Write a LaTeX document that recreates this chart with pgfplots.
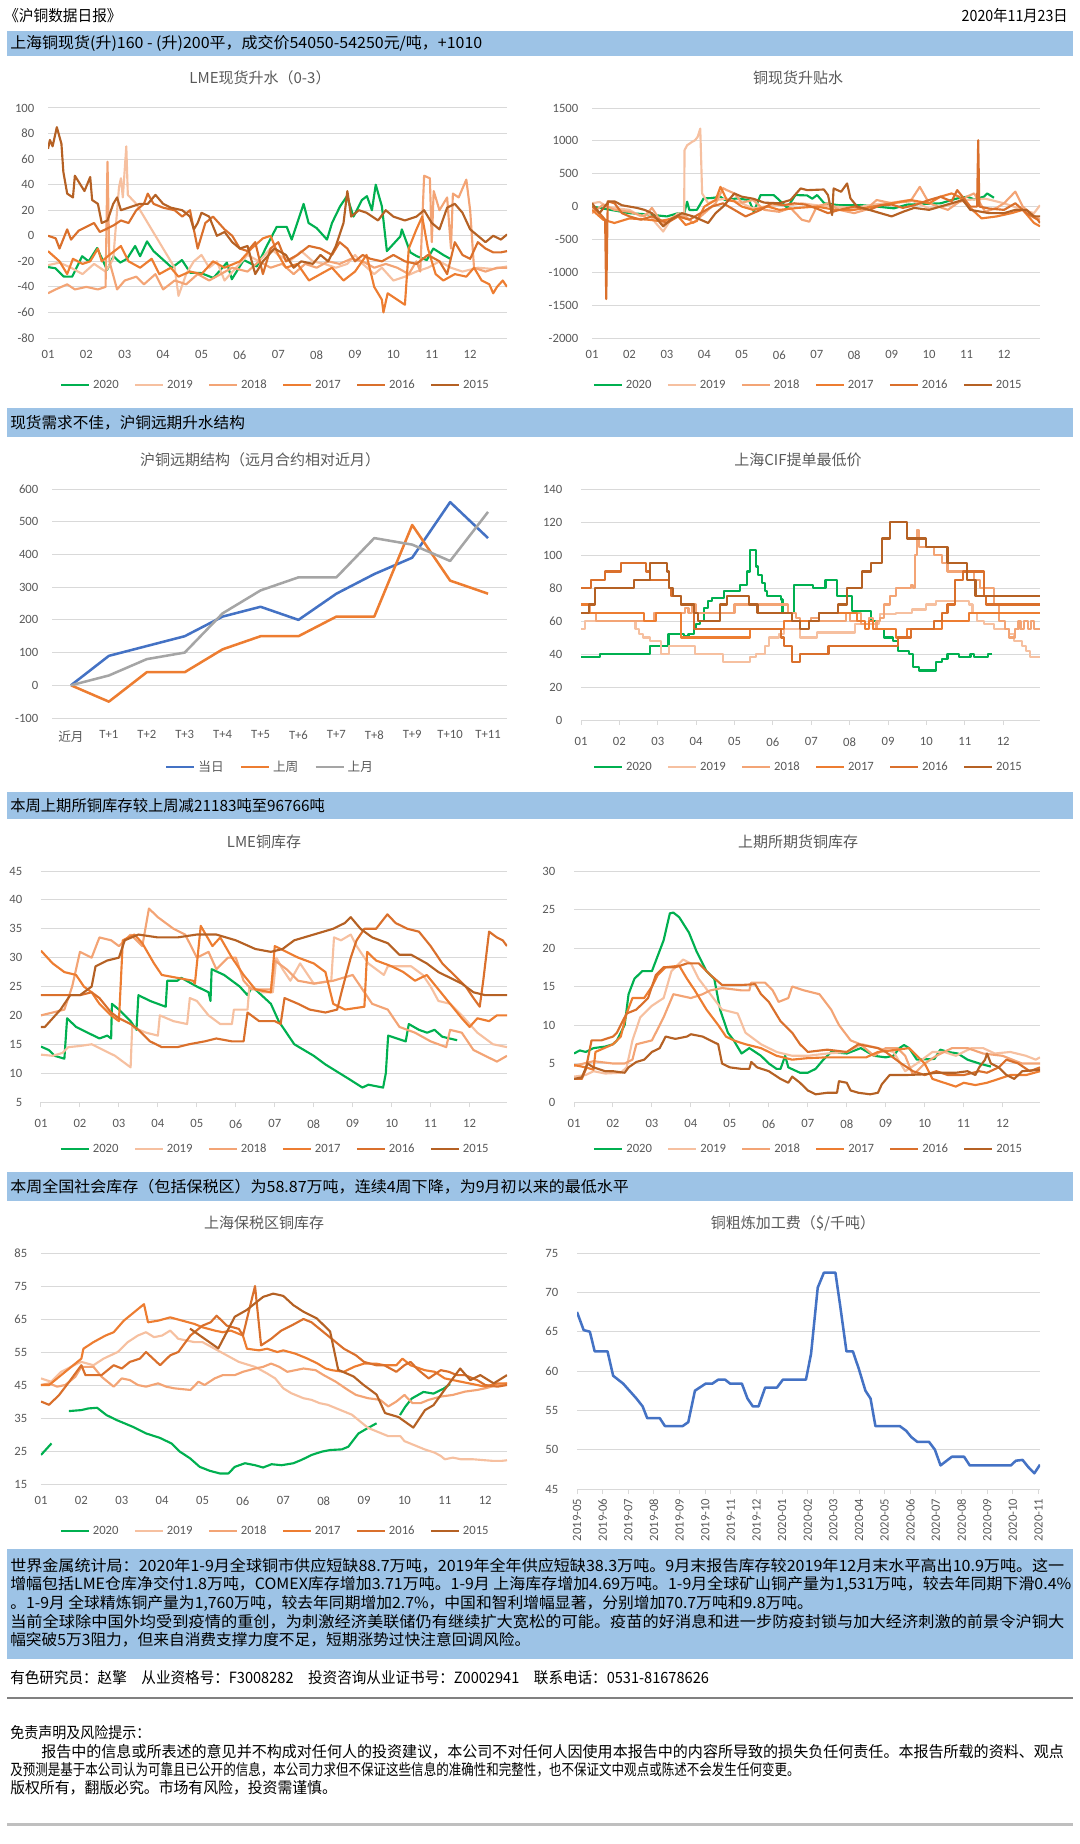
\documentclass[border=0pt]{standalone}
\usepackage{graphicx}
\usepackage{pgfplots}
\pgfplotsset{compat=1.18}
\usepackage{fontspec}
\setmainfont{Carlito}
\newfontfamily\cjk{Noto Sans CJK SC}
\definecolor{c20}{RGB}{0,176,80}
\definecolor{c19}{RGB}{246,192,160}
\definecolor{c18}{RGB}{243,164,117}
\definecolor{c17}{RGB}{237,125,49}
\definecolor{c16}{RGB}{218,112,44}
\definecolor{c15}{RGB}{181,97,36}
\definecolor{barblue}{RGB}{157,195,230}
\definecolor{gridc}{RGB}{217,217,217}
\definecolor{labc}{RGB}{89,89,89}
\definecolor{lblue}{RGB}{68,114,196}
\definecolor{lorange}{RGB}{237,125,49}
\definecolor{lgray}{RGB}{165,165,165}
\newcommand\tk{\fontsize{9.5}{11}\selectfont}
\newcommand\ttl{\cjk\fontsize{11.25}{13}\selectfont}
\newcommand\body{\cjk\fontsize{11.6}{14}\selectfont}
\newcommand\fitw[2]{\resizebox{#1}{\height}{\body #2}}
\pgfplotsset{
 legend image code/.code={\draw[#1,line width=2pt] (0pt,0pt) -- (21pt,0pt);},
 base/.style={scale only axis, anchor=south west, axis line style={draw=none}, tick style={draw=none},
   ymajorgrids, grid style={draw=gridc,line width=0.75pt},
   tick label style={font=\tk, text=labc},
   yticklabel style={xshift=-6.75pt},
   /pgf/number format/assume math mode=true, /pgf/number format/1000 sep={},
   no markers, every axis plot/.append style={line width=1.6pt, line join=round},
   legend style={draw=none, fill=none, font=\tk, text=labc, anchor=center,
     /tikz/every even column/.append style={column sep=9.25pt}},
 },
 season/.style={base, xmin=0, xmax=11.96, xtick={0,...,11}, xticklabels={01,02,03,04,05,06,07,08,09,10,11,12}, legend columns=6, xticklabel style={yshift=-6pt}},
 withaxis/.style={axis x line*=bottom, x axis line style={draw=gridc, line width=0.75pt}, xtick style={draw=gridc, line width=0.75pt}, tick align=outside, major tick length=3.75pt}
}
\begin{document}
\begin{tikzpicture}
\begin{scope}[x=0.75pt,y=-0.75pt]
\useasboundingbox (0,0) rectangle (1080,1844);
% ---------- header ----------
\node[anchor=west,inner sep=0pt] at (4,16) {\fitw{88pt}{《沪铜数据日报》}};
\node[anchor=east,inner sep=0pt] at (1068,16) {\fitw{79.5pt}{2020年11月23日}};
\fill[barblue] (7,31) rectangle (1073,56);
\node[anchor=west,inner sep=0pt] at (10,43.5) {\fitw{354pt}{上海铜现货(升)160 - (升)200平，成交价54050-54250元/吨，+1010}};
\fill[barblue] (7,408) rectangle (1073,437);
\node[anchor=west,inner sep=0pt] at (10,422.5) {\fitw{176pt}{现货需求不佳，沪铜远期升水结构}};
\fill[barblue] (7,792) rectangle (1073,819);
\node[anchor=west,inner sep=0pt] at (10,805.5) {\fitw{236pt}{本周上期所铜库存较上周减21183吨至96766吨}};
\fill[barblue] (7,1172) rectangle (1073,1201);
\node[anchor=west,inner sep=0pt] at (10,1186.5) {\fitw{464pt}{本周全国社会库存（包括保税区）为58.87万吨，连续4周下降，为9月初以来的最低水平}};
% ---------- titles ----------
\node[text=labc] at (260,78) {\ttl LME现货升水（0-3）};
\node[text=labc] at (798,78) {\ttl 铜现货升贴水};
\node[text=labc] at (260,460) {\ttl 沪铜远期结构（远月合约相对近月）};
\node[text=labc] at (798,460) {\ttl 上海CIF提单最低价};
\node[text=labc] at (264,842) {\ttl LME铜库存};
\node[text=labc] at (798,842) {\ttl 上期所期货铜库存};
\node[text=labc] at (264,1223) {\ttl 上海保税区铜库存};
\node[text=labc] at (793,1223) {\ttl 铜粗炼加工费（\$/千吨）};
% ---------- text box ----------
\fill[barblue] (7,1549) rectangle (1073,1659);
\node[anchor=west,inner sep=0pt] at (10,1566) {\fitw{790.5pt}{世界金属统计局：2020年1-9月全球铜市供应短缺88.7万吨，2019年全年供应短缺38.3万吨。9月末报告库存较2019年12月末水平高出10.9万吨。这一}};
\node[anchor=west,inner sep=0pt] at (10,1584.5) {\fitw{795.75pt}{增幅包括LME仓库净交付1.8万吨，COMEX库存增加3.71万吨。1-9月 上海库存增加4.69万吨。1-9月全球矿山铜产量为1,531万吨，较去年同期下滑0.4\%}};
\node[anchor=west,inner sep=0pt] at (10,1603) {\fitw{602pt}{。1-9月 全球精炼铜产量为1,760万吨，较去年同期增加2.7\%，中国和智利增幅显著，分别增加70.7万吨和9.8万吨。}};
\node[anchor=west,inner sep=0pt] at (10,1621.5) {\fitw{790.5pt}{当前全球除中国外均受到疫情的重创，为刺激经济美联储仍有继续扩大宽松的可能。疫苗的好消息和进一步防疫封锁与加大经济刺激的前景令沪铜大}};
\node[anchor=west,inner sep=0pt] at (10,1640) {\fitw{390pt}{幅突破5万3阻力，但来自消费支撑力度不足，短期涨势过快注意回调风险。}};
\node[anchor=west,inner sep=0pt] at (10,1678) {\fitw{524pt}{有色研究员：赵擎\quad 从业资格号：F3008282\quad 投资咨询从业证书号：Z0002941\quad 联系电话：0531-81678626}};
\draw[color={rgb,255:red,128;green,128;blue,128}, line width=1.5pt] (7,1698) -- (1073,1698);
\node[anchor=west,inner sep=0pt] at (10,1733) {\fitw{105pt}{免责声明及风险提示：}};
\node[anchor=west,inner sep=0pt] at (41,1752) {\fitw{767pt}{报告中的信息或所表述的意见并不构成对任何人的投资建议，本公司不对任何人因使用本报告中的内容所导致的损失负任何责任。本报告所载的资料、观点}};
\node[anchor=west,inner sep=0pt] at (10,1770) {\fitw{592pt}{及预测是基于本公司认为可靠且已公开的信息，本公司力求但不保证这些信息的准确性和完整性，也不保证文中观点或陈述不会发生任何变更。}};
\node[anchor=west,inner sep=0pt] at (10,1788) {\fitw{245pt}{版权所有，翻版必究。市场有风险，投资需谨慎。}};
\draw[color={rgb,255:red,191;green,191;blue,191}, line width=2.25pt] (7,1824) -- (1073,1824);
\end{scope}
% ---------- chart 1 ----------
\begin{axis}[season, at={(36pt,-253.5pt)}, width=344.25pt, height=172.5pt, ymin=-80, ymax=100, ytick={-80,-60,...,100}, legend style={at={(0.496,-0.204)}}]
\addplot[c20] coordinates {(0,-24.5)(0.19,-25.4)(0.41,-31.9)(0.63,-32)(0.89,-16)(1.06,-20)(1.28,-9.6)(1.54,-26.7)(1.71,-16)(1.88,-21)(2.06,-18)(2.27,-8)(2.4,-16)(2.58,-4.4)(2.75,-12)(3.01,-19)(3.23,-25)(3.49,-19)(3.71,-29)(3.97,-29)(4.31,-33)(4.66,-21)(4.79,-34)(5.1,-19)(5.44,-24)(5.7,-8)(5.96,7)(6.22,7)(6.35,-3)(6.66,25)(6.79,10)(7.0,6)(7.27,-3)(7.4,10)(7.61,23)(7.79,31)(7.96,15)(8.18,28)(8.31,31)(8.44,20)(8.54,40)(8.7,23)(8.83,-12)(9.18,-0.5)(9.22,5)(9.44,-13)(9.61,-16)(9.87,-19)(10.04,-10)(10.3,-15)(10.48,-18)};
\addlegendentry{2020}
\addplot[c19] coordinates {(0,-23)(0.3,-21)(0.6,-25)(0.9,-30)(1.2,-22)(1.5,-28)(1.7,-18)(1.85,38)(1.9,45)(1.95,30)(2.04,70)(2.08,32)(2.3,25)(2.5,15)(2.7,5)(2.9,-5)(3.1,-15)(3.3,-25)(3.4,-47)(3.6,-30)(3.8,-20)(4.0,-15)(4.2,-25)(4.4,-20)(4.6,-35)(4.9,-25)(5.2,-15)(5.5,-20)(5.8,-10)(6.0,-15)(6.3,-20)(6.6,-12)(6.9,-20)(7.2,-22)(7.5,-25)(7.8,-22)(8.0,-15)(8.2,-22)(8.5,-30)(8.7,-25)(9.0,-35)(9.3,-32)(9.6,-28)(9.9,-25)(10.2,-20)(10.5,-25)(10.8,-28)(11.2,-25)(11.6,-26)(11.96,-24)};
\addlegendentry{2019}
\addplot[c18] coordinates {(0,-45)(0.2,-42)(0.5,-38)(0.7,-42)(1.0,-40)(1.3,-42)(1.5,-40)(1.55,58)(1.6,-20)(1.8,-42)(2.0,-35)(2.3,-32)(2.5,-38)(2.8,-30)(3.0,-42)(3.3,-35)(3.6,-38)(3.9,-30)(4.2,-35)(4.5,-30)(4.8,-25)(5.2,-28)(5.5,-20)(5.8,-25)(6.1,-22)(6.4,-30)(6.7,-22)(7.0,-25)(7.3,-20)(7.6,-22)(7.9,-18)(8.2,-20)(8.5,-25)(8.8,-22)(9.1,-25)(9.4,-30)(9.6,-20)(9.7,-28)(9.8,47)(9.95,45)(10.0,-5)(10.05,35)(10.2,20)(10.4,30)(10.5,-10)(10.55,33)(10.7,30)(10.9,44)(11.0,20)(11.1,-25)(11.4,-28)(11.7,-25)(11.96,-25)};
\addlegendentry{2018}
\addplot[c17] coordinates {(0,-12)(0.3,-20)(0.5,-30)(0.65,-18)(0.9,-22)(1.1,-20)(1.3,-10)(1.4,-20)(1.6,-15)(1.9,-8)(2.1,-20)(2.4,-25)(2.7,-18)(2.9,-30)(3.2,-25)(3.4,-32)(3.7,-28)(4.0,-30)(4.3,-20)(4.6,-25)(5.0,-20)(5.3,-10)(5.6,-2)(5.8,0)(6.0,-15)(6.2,-25)(6.5,-22)(6.8,-35)(7.1,-30)(7.4,-25)(7.7,-35)(8.0,-28)(8.3,-15)(8.5,-40)(8.7,-50)(8.74,-60)(8.85,-45)(9.1,-50)(9.3,-54)(9.4,-10)(9.6,5)(9.75,15)(9.9,-10)(10.1,-30)(10.3,-35)(10.6,-30)(10.9,-32)(11.1,-25)(11.3,-35)(11.5,-38)(11.6,-45)(11.7,-40)(11.85,-35)(11.96,-40)};
\addlegendentry{2017}
\addplot[c16] coordinates {(0,0)(0.2,-2)(0.3,-10)(0.5,5)(0.6,-3)(0.8,4)(1.0,7)(1.2,10)(1.35,3)(1.5,5)(1.7,8)(1.9,12)(2.1,10)(2.3,20)(2.5,25)(2.6,33)(2.75,25)(3.0,22)(3.3,20)(3.5,15)(3.7,20)(3.9,-10)(4.1,10)(4.3,15)(4.6,5)(4.8,0)(5.0,-10)(5.2,-12)(5.4,-5)(5.6,-30)(5.8,-10)(6.0,-5)(6.2,-20)(6.5,-15)(6.8,-8)(7.1,-10)(7.4,-15)(7.6,-5)(7.8,-10)(8.0,-20)(8.2,-15)(8.4,-18)(8.7,-20)(9.0,-15)(9.3,-20)(9.6,-22)(9.9,-15)(10.2,-20)(10.4,-30)(10.6,-5)(10.8,-15)(11.0,-18)(11.2,-5)(11.4,-10)(11.6,-13)(11.8,-13)(11.96,-12)};
\addlegendentry{2016}
\addplot[c15] coordinates {(0,68)(0.05,75)(0.12,70)(0.23,85)(0.35,72)(0.4,50)(0.5,33)(0.65,30)(0.7,47)(0.95,35)(1.1,46)(1.15,28)(1.3,25)(1.4,10)(1.55,12)(1.7,25)(1.8,30)(1.9,20)(2.1,22)(2.4,25)(2.6,25)(2.8,32)(3.0,25)(3.2,22)(3.5,20)(3.7,15)(3.8,5)(3.9,10)(4.0,18)(4.2,15)(4.4,0)(4.6,3)(4.8,-5)(5.0,-10)(5.2,-8)(5.4,-30)(5.6,-20)(5.9,-10)(6.2,-15)(6.4,-25)(6.6,-20)(6.9,-22)(7.1,-15)(7.3,-20)(7.5,-8)(7.7,10)(7.8,35)(7.9,15)(8.1,20)(8.3,18)(8.6,12)(8.8,20)(9.0,15)(9.3,12)(9.6,15)(9.8,20)(10.0,10)(10.2,5)(10.4,22)(10.6,25)(10.8,18)(11.0,5)(11.2,0)(11.4,-5)(11.6,0)(11.8,-3)(11.96,1)};
\addlegendentry{2015}
\end{axis}
% ---------- chart 2 ----------
\begin{axis}[season, at={(444pt,-253.5pt)}, width=336pt, height=172.5pt, ymin=-2000, ymax=1500, ytick={-2000,-1500,...,1500}, legend style={at={(0.483,-0.204)}}]
\addplot[c20] coordinates {(0,0)(0.5,-50)(1.0,-100)(1.5,-120)(2.0,-150)(2.3,-100)(2.45,-129)(2.54,74)(2.6,-53)(2.8,-50)(2.98,124)(3.2,130)(3.43,150)(3.55,99)(3.87,124)(4.19,99)(4.32,-78)(4.5,175)(4.85,175)(5.0,99)(5.21,-20)(5.43,175)(5.74,170)(5.88,120)(6.01,175)(6.2,50)(6.6,20)(7.17,23)(7.6,0)(8.06,-27)(8.41,30)(8.86,40)(9.31,50)(9.75,124)(10.02,150)(10.2,110)(10.46,150)(10.55,200)(10.73,134)};
\addlegendentry{2020}
\addplot[c19] coordinates {(0,50)(0.2,70)(0.4,0)(0.7,-30)(1.0,-50)(1.3,-150)(1.5,-100)(1.7,-250)(1.9,-380)(2.1,-200)(2.3,-100)(2.46,-150)(2.47,858)(2.54,933)(2.67,984)(2.75,1009)(2.82,1060)(2.89,1186)(2.94,200)(3.1,50)(3.3,100)(3.6,120)(4.0,50)(4.3,-30)(4.6,0)(5.0,30)(5.3,20)(5.6,50)(6.0,20)(6.5,0)(7.0,-20)(7.5,30)(8.0,60)(8.5,100)(9.0,-30)(9.5,20)(10.0,100)(10.5,120)(11.0,50)(11.5,-50)(11.8,-100)(11.96,20)};
\addlegendentry{2019}
\addplot[c18] coordinates {(0,-100)(0.3,30)(0.6,-50)(1.0,-80)(1.4,-150)(1.6,-20)(1.9,-280)(2.2,-150)(2.5,-150)(2.7,-250)(3.0,-100)(3.3,50)(3.5,280)(3.6,250)(3.8,200)(4.0,60)(4.3,100)(4.6,-50)(5.0,-80)(5.3,-20)(5.6,-200)(5.8,-230)(6.0,0)(6.3,50)(6.6,-50)(7.0,-100)(7.3,-50)(7.6,100)(8.0,50)(8.5,80)(8.75,300)(9.0,50)(9.5,-50)(10.0,150)(10.2,200)(10.5,-80)(10.8,-20)(11.0,50)(11.3,228)(11.5,0)(11.7,-100)(11.96,-200)};
\addlegendentry{2018}
\addplot[c17] coordinates {(0,-50)(0.3,-200)(0.6,-250)(1.0,-180)(1.5,-200)(1.8,-220)(2.0,-200)(2.3,-150)(2.5,-280)(2.8,-220)(3.0,0)(3.3,100)(3.43,300)(3.6,100)(3.8,80)(4.0,0)(4.3,-50)(4.7,0)(5.0,-50)(5.5,-20)(6.0,0)(6.5,-50)(7.0,-50)(7.5,0)(8.0,50)(8.5,100)(9.0,50)(9.3,150)(9.6,200)(9.8,150)(10.1,-20)(10.4,-180)(10.8,-150)(11.2,-100)(11.5,-50)(11.8,-250)(11.96,-300)};
\addlegendentry{2017}
\addplot[c16] coordinates {(0,0)(0.2,-100)(0.35,-200)(0.38,-1408)(0.42,80)(0.6,50)(0.8,-100)(1.0,-150)(1.3,-200)(1.6,-150)(2.0,-250)(2.3,-150)(2.6,-200)(2.9,-100)(3.2,0)(3.5,50)(3.8,-50)(4.1,-150)(4.5,-50)(4.8,50)(5.1,20)(5.4,50)(5.7,30)(6.0,-30)(6.3,-100)(6.6,-50)(7.0,0)(7.4,-50)(7.7,20)(8.0,30)(8.3,-20)(8.6,20)(9.0,100)(9.3,150)(9.6,80)(9.75,250)(10.1,0)(10.28,0)(10.31,1009)(10.34,0)(10.6,-30)(11.0,-50)(11.3,50)(11.6,-100)(11.9,-200)(11.96,-250)};
\addlegendentry{2016}
\addplot[c15] coordinates {(0,50)(0.2,-100)(0.45,80)(0.6,80)(0.8,20)(1.0,0)(1.2,-20)(1.4,-50)(1.6,-100)(1.9,-300)(2.1,-200)(2.4,-100)(2.7,-150)(2.9,-200)(3.1,-250)(3.3,-100)(3.5,0)(3.8,200)(4.0,150)(4.3,120)(4.6,60)(5.0,50)(5.3,100)(5.57,276)(5.75,250)(6.19,260)(6.3,175)(6.41,-129)(6.45,276)(6.65,225)(6.81,352)(6.9,124)(7.08,0)(7.4,-50)(7.7,-100)(8.0,-150)(8.3,-80)(8.6,-20)(9.0,-50)(9.3,0)(9.6,50)(9.9,100)(10.1,-50)(10.6,-100)(11.0,-100)(11.3,-50)(11.6,-50)(11.8,-150)(11.96,-150)};
\addlegendentry{2015}
\end{axis}
% ---------- chart 3 ----------
\begin{axis}[base, at={(39pt,-538.5pt)}, width=341.25pt, height=171.75pt, xmin=-0.5, xmax=11.5, ymin=-100, ymax=600, ytick={-100,0,...,600}, xtick={0,...,11}, xticklabels={{\cjk 近月},T+1,T+2,T+3,T+4,T+5,T+6,T+7,T+8,T+9,T+10,T+11}, xticklabel style={yshift=-6pt}, legend columns=3, legend style={at={(0.48,-0.214)}, /tikz/every even column/.append style={column sep=10pt}}, every axis plot/.append style={line width=1.9pt}]
\addplot[lblue] coordinates {(0,0)(1,90)(2,120)(3,150)(4,210)(5,240)(6,200)(7,280)(8,340)(9,390)(10,560)(11,450)};
\addlegendentry{\cjk 当日}
\addplot[lorange] coordinates {(0,0)(1,-50)(2,40)(3,40)(4,110)(5,150)(6,150)(7,210)(8,210)(9,490)(10,320)(11,280)};
\addlegendentry{\cjk 上周}
\addplot[lgray] coordinates {(0,0)(1,30)(2,80)(3,100)(4,220)(5,290)(6,330)(7,330)(8,450)(9,430)(10,380)(11,530)};
\addlegendentry{\cjk 上月}
\end{axis}
% ---------- chart 4 ----------
\begin{axis}[season, withaxis, at={(435.75pt,-540pt)}, width=344.25pt, height=173.25pt, ymin=0, ymax=140, ytick={0,20,...,140}, legend style={at={(0.496,-0.203)}}, every axis plot/.append style={const plot}]
\addplot[c20] coordinates {(0,38)(0.5,40)(1.8,45)(2.28,52)(2.68,51)(2.8,52)(2.94,55)(3.0,58)(3.1,60)(3.2,68)(3.3,72)(3.41,74)(3.72,78)(4.15,82)(4.33,90)(4.4,103)(4.55,93)(4.62,88)(4.72,83)(4.8,78)(4.85,75)(5.2,73)(5.25,65)(5.56,82)(6.05,80)(6.37,85)(6.67,75)(7.05,66)(7.55,60)(7.7,55)(7.9,50)(8.12,48)(8.25,42)(8.55,40)(8.65,32)(8.8,30)(9.25,35)(9.4,37)(9.55,40)(9.85,38)(10.15,40)(10.25,38)(10.6,40)(10.7,40)};
\addlegendentry{2020}
\addplot[c19] coordinates {(0,55)(0.1,60)(1.42,55)(1.5,52)(1.62,50)(1.8,48)(2.08,40)(2.3,45)(2.98,40)(3.7,35)(4.4,38)(4.55,40)(4.8,45)(4.9,50)(5.15,52)(5.28,55)(5.7,50)(6.15,53)(7.15,58)(7.76,60)(7.8,64)(8.2,65)(8.63,67)(9.0,70)(9.24,72)(10.1,70)(10.2,65)(10.32,60)(10.5,58)(10.75,55)(11.15,52)(11.28,48)(11.5,45)(11.6,42)(11.71,38)(11.96,38)};
\addlegendentry{2019}
\addplot[c18] coordinates {(0,70)(0.22,65)(0.4,60)(1.9,65)(2.7,68)(2.8,65)(2.9,70)(3.0,65)(4.0,70)(5.4,65)(5.6,62)(5.7,60)(6.0,62)(6.2,60)(6.9,65)(7.0,60)(7.2,65)(7.3,58)(7.5,62)(7.6,55)(7.7,60)(7.8,62)(7.9,70)(8.05,75)(8.2,80)(8.6,82)(8.65,80)(8.7,100)(8.75,115)(8.8,105)(9.2,100)(9.4,95)(9.55,90)(10.25,85)(10.4,80)(10.75,70)(10.9,60)(11.05,55)(11.15,50)(11.3,55)(11.4,60)(11.45,55)(11.55,60)(11.65,55)(11.72,60)(11.8,55)(11.96,55)};
\addlegendentry{2018}
\addplot[c17] coordinates {(0,70)(0.2,65)(1.65,60)(1.95,65)(2.6,50)(4.4,55)(5.3,60)(6.2,65)(7.2,60)(7.4,55)(7.5,60)(7.6,55)(7.9,55)(8.2,50)(8.5,55)(9.4,60)(10.1,65)(11.96,65)};
\addlegendentry{2017}
\addplot[c16] coordinates {(0,80)(0.25,85)(0.62,90)(1.05,95)(1.7,90)(1.8,85)(2.3,80)(2.35,75)(2.6,70)(2.95,55)(5.2,50)(5.3,45)(5.5,35)(5.7,40)(6.45,45)(8.25,50)(8.6,55)(9.2,60)(9.4,65)(9.55,70)(9.75,85)(9.95,90)(10.5,75)(10.55,70)(11.96,70)};
\addlegendentry{2016}
\addplot[c15] coordinates {(0,65)(0.2,70)(0.37,80)(1.37,85)(1.8,95)(2.24,90)(2.3,80)(2.4,75)(2.6,70)(2.95,65)(3.05,60)(3.63,70)(3.8,75)(4.37,70)(4.6,65)(5.5,60)(5.7,55)(5.95,60)(6.2,65)(6.7,70)(6.93,80)(7.32,90)(7.55,95)(7.85,110)(8.06,120)(8.5,110)(9.0,105)(9.55,95)(10.06,85)(10.28,75)(11.96,75)};
\addlegendentry{2015}
\end{axis}
% ---------- chart 5 ----------
\begin{axis}[season, withaxis, at={(30.75pt,-826.5pt)}, width=349.5pt, height=173.25pt, ymin=5, ymax=45, ytick={5,10,...,45}, legend style={at={(0.503,-0.203)}}]
\addplot[c20] coordinates {(0,14.6)(0.2,14)(0.35,13)(0.6,12.5)(0.67,19.5)(0.9,18)(1.2,17)(1.5,16)(1.7,16.5)(1.8,16)(1.82,22)(2.0,21)(2.3,19)(2.45,17.5)(2.5,23.5)(2.8,22.5)(3.2,21.5)(3.24,26)(3.5,26)(3.6,26.5)(4.0,25)(4.3,24)(4.35,22.5)(4.38,28)(4.7,27)(5.1,25)(5.3,23.5)(5.42,25)(5.9,22)(6.1,19)(6.5,15)(7.0,13)(7.3,11.5)(7.9,9)(8.25,7.5)(8.4,8)(8.78,7.5)(8.85,10)(8.91,16.5)(9.36,15.5)(9.44,18.5)(9.7,17.5)(9.91,17)(10.1,17.5)(10.3,16.3)(10.68,15.7)};
\addlegendentry{2020}
\addplot[c19] coordinates {(0,13.2)(0.3,13)(0.55,13.5)(0.7,14.5)(1.0,14.7)(1.3,15)(1.6,14)(1.9,13)(2.1,12)(2.3,11)(2.34,18)(2.7,17)(3.0,16.5)(3.05,20)(3.4,19)(3.75,18.5)(3.82,23)(4.0,22.5)(4.3,20)(4.6,18.5)(4.9,18.5)(4.95,21)(5.3,21)(5.35,25)(5.7,24)(5.95,24)(6.04,30)(6.2,28)(6.4,26)(6.65,29)(7.0,25.5)(7.45,26)(7.52,33.5)(7.7,33)(7.95,34)(8.1,32)(8.4,29)(8.8,27)(8.9,28.5)(9.5,28.5)(9.8,27)(10.0,25)(10.2,22.5)(10.5,22)(10.8,20)(11.2,17)(11.6,15)(11.96,14.5)};
\addlegendentry{2019}
\addplot[c18] coordinates {(0,20)(0.3,20.5)(0.6,21)(0.8,25)(1.0,31)(1.3,30)(1.5,33.5)(1.8,33)(2.0,32)(2.3,34)(2.6,32)(2.77,38.5)(3.0,37)(3.4,35)(3.7,34)(4.0,30)(4.3,31)(4.5,28)(4.8,30)(5.0,30)(5.2,26)(5.4,24.5)(5.9,24.5)(6.0,29.5)(6.3,28)(6.6,26)(7.0,25.5)(7.5,26)(8.0,27)(8.2,25)(8.5,22)(8.9,21)(9.2,18)(9.6,17)(10.0,15.5)(10.4,14.5)(10.5,17.5)(10.8,17)(11.1,14)(11.4,13)(11.7,12)(11.96,13)};
\addlegendentry{2018}
\addplot[c17] coordinates {(0,31.2)(0.3,29)(0.6,27.5)(0.9,27)(1.1,25)(1.3,24)(1.5,22)(1.8,20)(2.0,19)(2.1,33)(2.4,34)(2.6,32.5)(2.9,29)(3.1,27)(3.5,26.5)(3.9,26)(3.95,25.5)(4.1,35.5)(4.4,32)(4.6,33.5)(4.9,30)(5.2,27)(5.5,24.5)(5.9,24)(6.0,32)(6.3,31)(6.6,30)(7.0,29)(7.3,27.5)(7.5,22)(7.8,21)(8.3,21.5)(8.37,31)(8.6,29.5)(9.0,28.5)(9.3,27.5)(9.6,26)(9.9,27)(10.2,24.5)(10.5,22)(10.8,19.5)(11.0,18)(11.2,19.5)(11.5,19)(11.7,20)(11.96,20)};
\addlegendentry{2017}
\addplot[c16] coordinates {(0,23.5)(0.5,23.5)(1.0,23.5)(1.3,24)(1.5,23)(1.8,20.5)(2.0,19.5)(2.3,18.5)(2.5,17.5)(2.8,15.5)(3.1,14.5)(3.5,14.5)(3.8,15)(4.2,15.5)(4.5,16)(4.9,15.5)(5.2,15.5)(5.3,20.5)(5.6,19)(6.0,19)(6.15,18.5)(6.25,23)(6.6,22)(6.9,21)(7.3,20.5)(7.6,21)(7.75,25)(7.95,30)(8.1,33)(8.3,35)(8.6,35)(8.89,37.5)(9.1,36)(9.4,35)(9.7,34.5)(10.0,32)(10.3,29)(10.6,27)(10.9,25)(11.1,23)(11.26,21.5)(11.35,26)(11.5,34.5)(11.7,33.5)(11.85,33)(11.96,32)};
\addlegendentry{2016}
\addplot[c15] coordinates {(0,18)(0.1,18)(0.5,21)(0.75,23.5)(1.0,23.5)(1.3,25)(1.4,28.5)(1.7,29.5)(2.0,30)(2.15,33)(2.5,34)(3.0,33.5)(3.5,33.5)(4.0,34)(4.5,34)(5.0,33)(5.5,31.5)(5.9,31)(6.2,31.5)(6.5,33)(7.0,34)(7.5,35)(7.8,36)(7.95,37)(8.2,35)(8.5,33.5)(8.9,32.5)(9.2,30.5)(9.5,30.5)(9.9,29)(10.2,27.5)(10.5,26.5)(10.8,25.5)(11.1,24)(11.4,23.5)(11.96,23.5)};
\addlegendentry{2015}
\end{axis}
% ---------- chart 6 ----------
\begin{axis}[season, withaxis, at={(430.5pt,-826.5pt)}, width=349.5pt, height=173.25pt, ymin=0, ymax=30, ytick={0,5,...,30}, legend style={at={(0.504,-0.203)}}]
\addplot[c20] coordinates {(0,6.3)(0.15,6.7)(0.3,6.5)(0.5,7)(0.8,7.2)(1.0,7.5)(1.1,8)(1.3,10)(1.4,14)(1.55,16)(1.75,17)(2.0,17)(2.15,19)(2.3,21)(2.46,24.5)(2.55,24.6)(2.7,24)(2.95,22)(3.15,19.5)(3.4,17)(3.6,16)(3.75,12)(3.95,9)(4.1,8)(4.3,6.3)(4.5,7)(4.8,6)(5.0,5)(5.2,4.3)(5.3,4.3)(5.42,6)(5.5,4.5)(5.8,3.8)(6.0,3.8)(6.2,4.3)(6.4,5.5)(6.6,6.5)(7.0,6.3)(7.36,7)(7.7,6)(8.0,5.8)(8.2,6)(8.35,7)(8.47,7.4)(8.6,7)(8.8,5.5)(9.25,5.6)(9.4,6.8)(9.6,6.5)(9.85,6.3)(10.1,5.5)(10.4,5)(10.7,4.6)};
\addlegendentry{2020}
\addplot[c19] coordinates {(0,3.3)(0.3,3.5)(0.5,4)(0.8,3.7)(1.2,3.8)(1.35,4.5)(1.5,8)(1.7,11)(2.0,12.5)(2.3,13.5)(2.5,17)(2.8,18.5)(3.0,18)(3.2,16)(3.5,14)(3.8,12)(4.2,11.5)(4.4,9)(4.8,7.5)(5.2,6.5)(5.6,6)(6.0,6)(6.5,6.3)(7.0,6.5)(7.4,7.5)(7.8,7)(8.2,6.5)(8.5,4)(8.8,5)(9.2,6.5)(9.5,6.5)(9.8,6)(10.2,7)(10.5,7)(10.8,6.3)(11.2,6.5)(11.6,6)(11.85,5.5)(11.96,5.8)};
\addlegendentry{2019}
\addplot[c18] coordinates {(0,4.7)(0.5,5.3)(1.0,5)(1.3,5)(1.5,5.5)(1.6,7.5)(2.0,8)(2.3,11)(2.55,14)(3.0,13.5)(3.3,14)(3.5,14.5)(3.8,14.8)(4.3,14.5)(4.5,14.5)(4.55,15.5)(4.9,15.5)(5.1,14.5)(5.25,13)(5.5,13.5)(5.6,15)(5.9,14.5)(6.3,14)(6.6,12)(6.8,10)(7.1,8)(7.35,7.5)(7.7,6)(8.0,7)(8.3,7)(8.5,6)(8.7,3.5)(9.0,5)(9.3,6)(9.7,7)(10.1,7)(10.5,6.3)(11.0,6)(11.5,5)(11.96,5)};
\addlegendentry{2018}
\addplot[c17] coordinates {(0,4.8)(0.3,4.5)(0.5,4.2)(0.55,6.5)(1.0,7.5)(1.2,8.5)(1.35,11.5)(1.5,13.5)(1.8,13.5)(2.0,15)(2.15,16.5)(2.35,17.5)(2.7,17.7)(2.9,16)(3.1,14.5)(3.4,12)(3.7,10)(3.9,8.5)(4.1,8)(4.4,7.5)(4.8,7)(5.2,6)(5.6,5.5)(6.0,5.7)(6.5,5.8)(7.0,5.8)(7.5,5.8)(7.8,6.5)(8.3,6.8)(8.6,7)(8.8,6)(9.0,5)(9.2,3)(9.5,2.5)(9.8,2)(10.0,2.5)(10.3,2.2)(10.6,2.5)(10.9,3)(11.2,3.5)(11.6,3.5)(11.96,4)};
\addlegendentry{2017}
\addplot[c16] coordinates {(0,3)(0.2,3)(0.3,4.2)(0.45,8)(0.7,8)(1.0,8.5)(1.1,9)(1.35,11.5)(1.6,12)(1.9,13.5)(2.1,16.5)(2.3,17.5)(2.6,17.5)(2.9,18)(3.2,18)(3.5,16.5)(3.8,15.2)(4.3,15.2)(4.65,15.3)(4.8,14)(5.0,13)(5.3,10.5)(5.6,9)(5.8,7.5)(6.0,6.5)(6.5,6.8)(7.0,6.5)(7.3,7.5)(7.8,7)(8.0,6.5)(8.4,5)(8.7,4)(9.0,3.5)(9.3,4)(9.6,3.5)(10.0,3.5)(10.4,4)(10.6,3.8)(10.9,4.5)(11.1,5.5)(11.4,5)(11.7,4)(11.96,4.5)};
\addlegendentry{2016}
\addplot[c15] coordinates {(0,3)(0.2,3.2)(0.35,5)(0.5,4.5)(0.8,4)(1.0,4)(1.3,3.8)(1.4,4.5)(1.6,5.2)(1.8,5.5)(2.0,6.5)(2.2,7)(2.35,8.5)(2.6,8.2)(2.9,8.5)(3.0,8.8)(3.3,8.5)(3.5,8)(3.7,7.5)(3.8,5)(4.0,4.5)(4.3,4.3)(4.5,4.3)(4.55,5.2)(4.7,4.5)(5.0,4)(5.3,3)(5.5,2.5)(5.6,3.3)(5.8,2.5)(6.0,1.5)(6.2,1)(6.5,1.2)(6.75,1.2)(6.8,2.7)(7.0,2.5)(7.1,1.5)(7.3,1.2)(7.6,1)(7.8,1.2)(7.9,2.3)(8.1,3.5)(8.5,3.5)(9.0,3.6)(9.3,3.8)(9.8,3.8)(10.1,4)(10.3,3.5)(10.4,4.5)(10.55,5.5)(10.6,6.3)(10.7,5)(10.9,4.5)(11.1,3.5)(11.3,3)(11.5,4)(11.96,4.2)};
\addlegendentry{2015}
\end{axis}
% ---------- chart 7 ----------
\begin{axis}[season, xmax=11.54, at={(30.75pt,-1113pt)}, width=349.5pt, height=173.25pt, ymin=15, ymax=85, ytick={15,25,...,85}, legend style={at={(0.503,-0.203)}}]
\addplot[c20] coordinates {(0,23.8)(0.26,27.3)};
\addlegendentry{2020}
\addplot[c20, forget plot] coordinates {(0.69,37.1)(1.0,37.4)(1.17,37.9)(1.39,38.1)(1.62,35.9)(1.87,34.4)(2.28,32.3)(2.61,30.3)(2.94,29.0)(3.23,27.3)(3.44,24.8)(3.69,22.8)(3.93,20.2)(4.18,19.0)(4.43,18.2)(4.64,18.2)(4.8,20.2)(5.05,21.3)(5.3,20.7)(5.5,20.0)(5.71,21.0)(5.96,20.7)(6.25,21.3)(6.45,22.3)(6.7,23.8)(6.95,24.8)(7.16,25.3)(7.45,25.5)(7.61,26.3)(7.86,30.3)(8.07,31.8)(8.31,33.4)};
\addplot[c20, forget plot] coordinates {(8.89,35.9)(9.02,38.4)(9.18,40.9)(9.47,42.9)(9.72,42.4)(9.97,43.9)(10.13,45.3)};
\addplot[c19] coordinates {(0,47)(0.25,46)(0.5,49)(0.9,51.5)(1.0,52)(1.3,51)(1.55,53)(1.9,55)(2.15,58)(2.4,60)(2.6,61)(2.8,59.5)(3.0,60)(3.2,61.5)(3.4,59)(3.8,58)(4.0,58)(4.3,56)(4.6,54)(4.9,52)(5.3,50.5)(5.6,48.5)(5.8,47)(6.0,44)(6.2,42.5)(6.5,41)(6.7,40.5)(6.9,39.5)(7.1,39)(7.3,38)(7.5,37)(7.7,36)(7.9,34)(8.1,32)(8.4,30.5)(8.6,29.5)(8.9,29.5)(9.0,28)(9.3,26.5)(9.5,25.5)(9.75,24.5)(9.9,23.5)(10.0,22.5)(10.2,23)(10.4,22.5)(10.7,22.5)(10.9,22.3)(11.2,22)(11.4,22)(11.54,22.2)};
\addlegendentry{2019}
\addplot[c18] coordinates {(0,45)(0.2,45.5)(0.4,44.5)(0.6,45)(0.85,47.5)(1.0,50.5)(1.3,50.5)(1.5,47.5)(1.8,44.5)(2.0,47)(2.2,46.5)(2.4,45)(2.6,44.5)(2.9,45.5)(3.1,44.5)(3.3,44)(3.7,43.5)(3.9,46)(4.05,45)(4.3,47)(4.5,48)(4.8,48)(5.0,49)(5.3,50)(5.5,50.5)(5.7,51.5)(5.9,50.5)(6.1,49)(6.3,49.5)(6.5,50)(6.8,49.5)(7.0,48)(7.3,46)(7.6,43.5)(7.8,42)(8.1,41)(8.4,40.5)(8.6,38.5)(8.8,40)(9.0,42)(9.2,39.5)(9.4,39.5)(9.6,40.5)(9.9,41.5)(10.2,42)(10.5,43)(10.8,43.5)(11.0,44)(11.3,45)(11.54,45.5)};
\addlegendentry{2018}
\addplot[c17] coordinates {(0,45)(0.2,45)(0.4,47)(0.7,50)(1.0,53)(1.05,56)(1.3,58)(1.6,60)(1.8,61)(2.05,64.5)(2.2,66)(2.55,69.5)(2.65,64)(2.9,64.5)(3.2,65.5)(3.5,64.5)(3.8,63.5)(4.0,62.5)(4.3,61.5)(4.5,61)(4.7,61.5)(5.0,60)(5.1,56)(5.4,55.5)(5.6,56)(5.85,55)(6.0,55.5)(6.3,54.5)(6.6,53)(6.85,51.5)(7.05,50)(7.2,49.5)(7.5,49)(7.75,50.5)(8.0,51.5)(8.3,51.5)(8.5,51)(8.8,51)(8.95,53)(9.15,51)(9.5,49.5)(9.75,49)(10.0,47)(10.4,46)(10.8,45)(11.0,44.5)(11.3,45.5)(11.54,45.5)};
\addlegendentry{2017}
\addplot[c16] coordinates {(0,40)(0.2,39)(0.45,42)(0.7,46)(1.0,51)(1.1,48)(1.5,48)(1.8,51)(2.0,50)(2.2,52)(2.45,53)(2.6,55)(2.95,51)(3.2,54)(3.4,55)(3.7,60)(4.0,63)(4.2,64)(4.35,66)(4.6,63)(4.9,62)(5.0,60)(5.3,75)(5.45,57)(5.7,59)(5.95,61.5)(6.2,63)(6.5,65)(6.7,64)(7.0,61)(7.2,59)(7.5,56)(7.8,54)(8.0,52)(8.3,51)(8.5,51)(8.8,49)(9.0,51)(9.15,52)(9.35,49.5)(9.6,47)(9.9,49.5)(10.1,49)(10.3,48)(10.5,48)(10.8,46.5)(11.0,45)(11.3,44.5)(11.54,45)};
\addlegendentry{2016}
\addplot[c15] coordinates {(3.69,62.1)(4.39,56.1)(4.8,65.7)(5.09,67.7)(5.5,71.7)(5.75,72.7)(6.0,72.0)(6.25,69.2)(6.5,67.2)(6.83,65.2)(7.16,61.2)(7.36,49.6)(7.74,47.6)(7.98,45.1)(8.31,42.1)(8.52,36.5)(8.85,35.3)(9.22,32.1)(9.51,37.4)(9.72,38.9)(10.05,44.5)(10.38,50.0)(10.63,46.5)(10.88,48.0)(11.21,45.5)(11.54,48.0)};
\addlegendentry{2015}
\end{axis}
% ---------- chart 8 ----------
\begin{axis}[base, withaxis, at={(432.75pt,-1116.75pt)}, width=347.25pt, height=177pt, xmin=0, xmax=18.06, ymin=45, ymax=75, ytick={45,50,...,75}, xtick={0,...,18}, xticklabels={2019-05,2019-06,2019-07,2019-08,2019-09,2019-10,2019-11,2019-12,2020-01,2020-02,2020-03,2020-04,2020-05,2020-06,2020-07,2020-08,2020-09,2020-10,2020-11}, xticklabel style={rotate=90, anchor=east}, every axis plot/.append style={line width=1.9pt}]
\addplot[lblue] coordinates {(0,67.5)(0.26,65.2)(0.5,65.0)(0.69,62.5)(1.19,62.5)(1.41,59.4)(1.8,58.4)(2.32,56.5)(2.56,55.5)(2.74,54.0)(3.23,54.0)(3.43,53.0)(4.12,53.0)(4.34,53.5)(4.6,57.5)(5.02,58.4)(5.28,58.4)(5.51,58.9)(5.78,58.9)(5.97,58.4)(6.43,58.4)(6.65,56.5)(6.86,55.5)(7.08,55.5)(7.34,57.9)(7.8,57.9)(8.03,58.9)(8.93,58.9)(9.13,62.2)(9.39,70.6)(9.63,72.5)(10.08,72.5)(10.27,68.2)(10.51,62.5)(10.76,62.5)(10.99,60.3)(11.25,57.5)(11.45,56.5)(11.64,53.0)(12.59,53.0)(12.84,52.4)(13.04,51.6)(13.27,51.0)(13.73,51.0)(13.96,50.0)(14.18,48.0)(14.62,49.1)(15.1,49.1)(15.32,48.0)(16.92,48.0)(17.12,48.6)(17.38,48.7)(17.6,47.8)(17.84,47.0)(18.06,48.1)};
\end{axis}
\end{tikzpicture}
\end{document}
